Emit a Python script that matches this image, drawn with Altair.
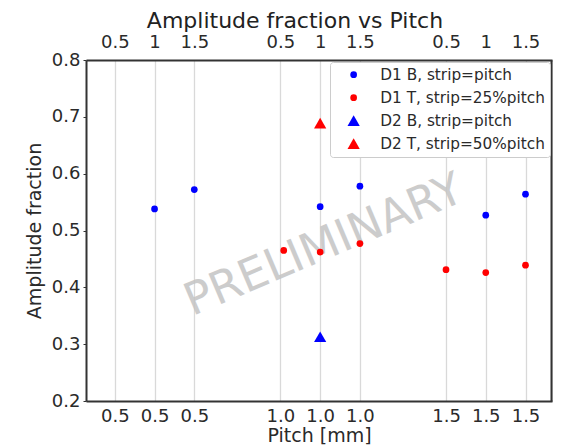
import json
import altair as alt
import pandas as pd

# tick positions and labels
tick_pos = [0.38, 0.5, 0.62, 0.88, 1.0, 1.12, 1.38, 1.5, 1.62]
bottom_labels = ["0.5", "0.5", "0.5", "1.0", "1.0", "1.0", "1.5", "1.5", "1.5"]
top_labels = ["0.5", "1", "1.5", "0.5", "1", "1.5", "0.5", "1", "1.5"]
y_ticks = [0.2, 0.3, 0.4, 0.5, 0.6, 0.7, 0.8]

# series
series_names = ["D1 B, strip=pitch", "D1 T, strip=25%pitch", "D2 B, strip=pitch", "D2 T, strip=50%pitch"]
series_colors = ["#0000ff", "#ff0000", "#0000ff", "#ff0000"]
series_shapes = ["circle", "circle", "triangle-up", "triangle-up"]
series_sizes = [45, 45, 150, 150]

d1b_x = [0.5, 0.62, 1.0, 1.12, 1.5, 1.62]
d1b_y = [0.538, 0.572, 0.542, 0.578, 0.527, 0.564]
d1t_x = [0.89, 1.0, 1.12, 1.38, 1.5, 1.62]
d1t_y = [0.465, 0.462, 0.477, 0.431, 0.426, 0.439]
d2b_x = [1.0]
d2b_y = [0.313]
d2t_x = [1.0]
d2t_y = [0.689]

rows = []
for name, xs, ys in zip(series_names, [d1b_x, d1t_x, d2b_x, d2t_x], [d1b_y, d1t_y, d2b_y, d2t_y]):
    for x, y in zip(xs, ys):
        rows.append({"pitch": x, "amp": y, "series": name})
df = pd.DataFrame(rows)

FONT = "DejaVu Sans"
TXT = "#2a2a2a"
FRAME = "#333333"
x_domain = [0.293, 1.70]

bottom_expr = f"{json.dumps(bottom_labels)}[indexof({json.dumps(tick_pos)}, datum.value)]"
top_expr = f"{json.dumps(top_labels)}[indexof({json.dumps(tick_pos)}, datum.value)]"

xscale = alt.Scale(domain=x_domain, nice=False, zero=False)
yscale = alt.Scale(domain=[0.2, 0.8], nice=False, zero=False)

points = alt.Chart(df).mark_point(filled=True, opacity=1).encode(
    x=alt.X("pitch:Q", scale=xscale,
            axis=alt.Axis(orient="bottom", values=tick_pos, labelExpr=bottom_expr,
                          title="Pitch [mm]", grid=True, gridColor="#d9d9d9",
                          gridWidth=1.3, labelFontSize=18, titleFontSize=19,
                          labelColor=TXT, titleColor=TXT, ticks=False,
                          domain=True, domainColor=FRAME, domainWidth=2,
                          labelPadding=6, titlePadding=1,
                          titleFontWeight="normal", labelOverlap=False)),
    y=alt.Y("amp:Q", scale=yscale,
            axis=alt.Axis(values=y_ticks, format=".1f",
                          title="Amplitude fraction", grid=False, labelFontSize=18,
                          titleFontSize=19, labelColor=TXT, titleColor=TXT,
                          tickColor=FRAME, tickSize=3, domain=True,
                          domainColor=FRAME, domainWidth=2,
                          titleFontWeight="normal", titlePadding=7, labelPadding=3)),
    color=alt.Color("series:N", scale=alt.Scale(domain=series_names, range=series_colors),
                    legend=alt.Legend(title=None, orient="top-right", labelFontSize=15.3,
                                      labelFont=FONT, labelColor=TXT, labelLimit=400,
                                      fillColor="white", strokeColor="#cccccc",
                                      padding=5, offset=2, symbolStrokeWidth=0,
                                      rowPadding=7, labelOffset=19, symbolOffset=11,
                                      cornerRadius=3)),
    shape=alt.Shape("series:N", scale=alt.Scale(domain=series_names, range=series_shapes)),
    size=alt.Size("series:N", scale=alt.Scale(type="ordinal", domain=series_names,
                                               range=series_sizes)),
)

top_axis = alt.Chart(pd.DataFrame({"pitch": tick_pos})).mark_tick(opacity=0).encode(
    x=alt.X("pitch:Q", scale=xscale,
            axis=alt.Axis(orient="top", values=tick_pos, labelExpr=top_expr, title=None,
                          grid=False, labelFontSize=18, labelColor=TXT,
                          ticks=False, domain=True, domainColor=FRAME, domainWidth=2,
                          labelPadding=9, labelOverlap=False)),
)

right_frame = alt.Chart(pd.DataFrame({"amp": y_ticks})).mark_tick(opacity=0).encode(
    y=alt.Y("amp:Q", scale=yscale,
            axis=alt.Axis(orient="right", values=y_ticks, labels=False, ticks=False,
                          title=None, grid=False, domain=True, domainColor=FRAME,
                          domainWidth=2, offset=-1)),
)

wm_text = ["PRELIMINARY"]
wm = alt.Chart(pd.DataFrame({"pitch": [1.011], "amp": [0.474], "t": wm_text})).mark_text(
    fontSize=45, angle=337, color="#c4c4c4", opacity=0.85, font=FONT
).encode(x=alt.X("pitch:Q", scale=xscale, axis=None),
         y=alt.Y("amp:Q", scale=yscale, axis=None), text="t:N")

chart = alt.layer(wm, points, top_axis, right_frame).resolve_axis(
    x="independent", y="independent"
).properties(
    width=466, height=341,
    autosize=alt.AutoSizeParams(type="none"),
    padding={"left": 78, "top": 52, "right": 4, "bottom": 45},
    title=alt.TitleParams("Amplitude fraction vs Pitch", fontSize=22, font=FONT,
                          fontWeight="normal", color="#222", offset=6, dx=-24, dy=6),
    background="white",
).configure_view(strokeWidth=0).configure(font=FONT)

chart.save("out.html", embed_options={"renderer": "svg", "actions": False})
